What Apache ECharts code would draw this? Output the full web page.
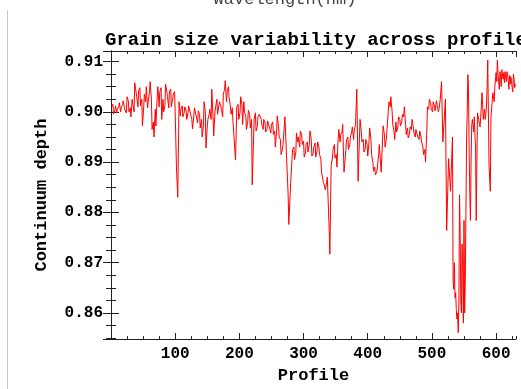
<!DOCTYPE html>
<html>
<head>
<meta charset="utf-8">
<script src="https://cdn.jsdelivr.net/npm/echarts@6/dist/echarts.min.js"></script>
<style>
html,body{margin:0;padding:0;background:#fff;}
#chart{width:521px;height:389px;}
</style>
</head>
<body>
<div id="chart"></div>
<script>
// ---- data ----
const chartTitle = 'Grain size variability across profile';
const topClippedText = 'Wavelength(nm)';
const xName = 'Profile';
const yName = 'Continuum depth';

// main readings
const profile = [
  1,4,7,10,13,16,19,22,25,28,
  31,34,37,40,43,46,49,52,55,58,
  61,64,67,70,73,76,79,82,85,88,
  91,94,97,100,102,104,106,109,112,115,118,
  121,124,127,130,133,136,139,142,145,148,
  151,154,157,160,163,166,169,172,175,178,
  181,184,187,190,194,196,199,202,205,208,
  211,214,217,220,223,226,229,232,235,238,
  241,244,247,250,253,256,259,262,265,268,
  271,274,276,277,280,283,286,289,292,295,298,
  301,304,307,310,313,316,319,322,325,328,
  331,334,337,340,341,343,346,349,352,355,358,
  361,363,367,370,373,376,379,383,385,388,
  391,394,397,400,403,406,409,412,415,418,
  421,424,427,430,433,436,439,442,445,448,
  451,454,457,460,463,466,469,472,475,478,
  481,484,487,490,493,496,499,502,505,508,
  511,515,517,521,523,526,529,532,533,534,536,538,
  539,541,543,544,545,547,549,550,552,554,556,557,558,559,560,562,564,566,568,569,
  571,574,576,578,580,582,584,587,589,591,592,595,597,
  600,602,604,606,609,611,614,616,618,620,623,626,628,630
];
const depth = [
  0.9010,0.8996,0.9012,0.9005,0.9018,0.9008,0.9022,0.9002,0.9030,0.9000,
  0.8990,0.9015,0.9058,0.9030,0.9042,0.9012,0.8972,0.9035,0.9050,0.9020,
  0.9060,0.8965,0.8950,0.8972,0.9050,0.9040,0.8985,0.9000,0.9055,0.9030,
  0.9040,0.9010,0.9035,0.9000,0.8890,0.8830,0.9020,0.9005,0.8990,0.9010,0.8985,
  0.9012,0.8995,0.8966,0.9008,0.8990,0.9002,0.8968,0.8950,0.9020,0.8928,
  0.8985,0.9005,0.9045,0.8952,0.9010,0.8995,0.9020,0.9005,0.9035,0.9062,
  0.9040,0.9028,0.8995,0.8982,0.8904,0.9010,0.8985,0.9030,0.8975,0.9000,
  0.8965,0.9003,0.8968,0.8855,0.8985,0.8962,0.8990,0.8998,0.8975,0.8985,
  0.8960,0.8982,0.8968,0.8975,0.8955,0.8930,0.8992,0.8950,0.8915,0.8935,
  0.8990,0.8895,0.8835,0.8776,0.8860,0.8925,0.8905,0.8958,0.8950,0.8962,0.8935,
  0.8910,0.8935,0.8920,0.8962,0.8912,0.8930,0.8910,0.8940,0.8915,0.8880,
  0.8860,0.8845,0.8870,0.8764,0.8717,0.8893,0.8925,0.8908,0.8890,0.8965,0.8955,
  0.8975,0.8880,0.8945,0.8925,0.8950,0.8970,0.8962,0.9045,0.8862,0.8985,
  0.8940,0.8920,0.8945,0.8912,0.8968,0.8915,0.8882,0.8875,0.8890,0.8935,
  0.8880,0.8972,0.8930,0.8965,0.9020,0.9030,0.8975,0.8945,0.8960,0.8990,
  0.8972,0.8995,0.9010,0.8955,0.8948,0.8970,0.8985,0.8958,0.8965,0.8950,
  0.8962,0.8940,0.8915,0.8900,0.9010,0.9025,0.9005,0.9020,0.9002,0.9015,
  0.9005,0.9060,0.8940,0.9025,0.8764,0.8907,0.8842,0.8950,0.8666,0.8647,0.8630,0.8607,
  0.8588,0.8561,0.8835,0.8760,0.8620,0.8737,0.8580,0.8784,0.8666,0.8946,0.9074,0.9045,0.8920,0.8840,0.8784,0.8972,0.8975,0.8990,0.8930,0.8784,
  0.8998,0.8975,0.8990,0.9038,0.8985,0.9005,0.8995,0.9103,0.8893,0.8842,0.8990,0.9038,0.9020,
  0.9078,0.9103,0.9060,0.9080,0.9084,0.9065,0.9080,0.9060,0.9075,0.9045,0.9070,0.9040,0.9065,0.9055
];

// extra readings of the fine jitter between the main readings
const profileFine = [
  3,6,9,12,15,18,21,24,27,30,33,36,39,42,45,48,51,54,57,60,
  63,66,69,72,75,78,81,84,87,90,93,96,99,
  108,111,114,117,120,123,126,129,132,135,138,141,144,147,150,
  153,156,159,162,165,168,171,174,177,180,183,186,189,
  198,201,204,207,210,213,216,219,225,228,231,234,237,240,
  243,246,249,252,255,258,261,264,267,
  282,285,288,291,294,297,300,303,306,309,312,315,318,321,324,327,
  345,348,351,354,357,360,366,369,372,375,378,381,
  390,393,396,399,402,405,408,411,414,417,
  426,429,432,435,438,441,444,447,450,
  453,456,459,462,465,468,471,474,477,480,
  483,486,489,492,495,498,501,504,507,510,513,
  535,537,540,542,546,548,551,553,555,561,563,565,567,
  573,575,577,579,581,583,585,586,
  598,601,603,605,607,608,610,612,613,615,617,619,621,622,624,625,627,629
];
const depthFine = [
  0.9015,0.9002,0.8998,0.9010,0.9000,0.9015,0.9008,0.8998,0.9022,0.9008,0.9025,0.9000,0.9040,0.9010,0.9048,0.9025,0.9010,0.9020,0.9008,0.9040,
  0.9025,0.8980,0.9005,0.9030,0.9010,0.9048,0.9025,0.9012,0.9040,0.9008,0.9045,0.9025,0.9040,
  0.8992,0.9012,0.8998,0.9002,0.8998,0.9010,0.8985,0.8992,0.9005,0.8978,0.8995,0.8985,0.8972,0.9000,0.8972,
  0.8995,0.8985,0.8990,0.9000,0.9025,0.8998,0.9012,0.8990,0.9045,0.9020,0.9050,0.9012,0.9008,
  0.9015,0.8998,0.9015,0.9020,0.8992,0.8980,0.8995,0.8985,0.8998,0.8972,0.8995,0.8985,0.8965,0.8978,
  0.8965,0.8985,0.8958,0.8980,0.8962,0.8960,0.8970,0.8945,0.8925,
  0.8905,0.8930,0.8920,0.8940,0.8930,0.8955,0.8942,0.8918,0.8940,0.8935,0.8945,0.8918,0.8938,0.8922,0.8930,0.8905,
  0.8908,0.8935,0.8915,0.8950,0.8940,0.8960,0.8925,0.8950,0.8935,0.8960,0.8945,0.8975,
  0.8960,0.8945,0.8925,0.8935,0.8940,0.8945,0.8900,0.8890,0.8880,0.8915,
  0.8955,0.8945,0.9000,0.9010,0.9000,0.8960,0.8980,0.8970,0.8985,
  0.8980,0.8990,0.8975,0.8968,0.8955,0.8965,0.8970,0.8950,0.8968,0.8945,
  0.8950,0.8930,0.8925,0.8960,0.9005,0.9018,0.9000,0.9012,0.9022,0.9000,0.9025,
  0.8700,0.8640,0.8600,0.8620,0.8600,0.8680,0.8600,0.8800,0.9000,0.8900,0.8985,0.8960,0.8955,
  0.8985,0.8970,0.9010,0.9015,0.8998,0.8985,0.9012,0.9050,
  0.9050,0.9060,0.9075,0.9045,0.9070,0.9050,0.9070,0.9078,0.9058,0.9068,0.9080,0.9060,0.9072,0.9055,0.9062,0.9048,0.9075,0.9048
];

// axis ranges and tick steps
const xRange = [0, 631];
const yRange = [0.8548, 0.9121];
const xMajorStep = 100, xMinorStep = 25;
const yMajorStep = 0.01, yMinorStep = 0.0025;

// ---- build chart ----
const seriesData = profile.map((p, i) => [p, depth[i]])
  .concat(profileFine.map((p, i) => [p, depthFine[i]]))
  .sort((a, b) => a[0] - b[0]);
const FONT = 'Liberation Mono';
const AX = '#222';

function xAxisDef(pos, step, len, labels, line) {
  return {
    type: 'value', position: pos, min: xRange[0], max: xRange[1], interval: step,
    axisLine: { show: line, lineStyle: { color: AX, width: 1 } },
    axisTick: { show: true, inside: true, length: len, lineStyle: { color: AX, width: 1 } },
    axisLabel: { show: labels, margin: 7, color: '#000', fontFamily: FONT, fontWeight: 'bold', fontSize: 16,
                 showMinLabel: false, showMaxLabel: false },
    splitLine: { show: false },
    name: (labels ? xName : ''), nameLocation: 'middle', nameGap: 22,
    nameTextStyle: { color: '#000', fontFamily: FONT, fontWeight: 'bold', fontSize: 17, verticalAlign: 'top' }
  };
}
function yAxisDef(pos, step, len, labels, line) {
  return {
    type: 'value', position: pos, min: yRange[0], max: yRange[1],
    minInterval: step, maxInterval: step,
    axisLine: { show: line, lineStyle: { color: AX, width: 1 } },
    axisTick: { show: true, inside: true, length: len, lineStyle: { color: AX, width: 1 } },
    axisLabel: { show: labels, margin: 8, color: '#000', fontFamily: FONT, fontWeight: 'bold', fontSize: 16,
                 showMinLabel: false, showMaxLabel: false,
                 formatter: v => v.toFixed(2) },
    splitLine: { show: false },
    name: (labels ? yName : ''), nameLocation: 'middle', nameGap: 61, nameRotate: 90,
    nameTextStyle: { color: '#000', fontFamily: FONT, fontWeight: 'bold', fontSize: 17 }
  };
}

const chart = echarts.init(document.getElementById('chart'), null, { renderer: 'canvas' });
chart.setOption({
  animation: false,
  backgroundColor: '#fff',
  title: {
    text: chartTitle, left: 105, top: 31, padding: 0,
    textStyle: { color: '#000', fontFamily: FONT, fontWeight: 'bold', fontSize: 19 }
  },
  grid: { left: 111, right: 5, top: 51, bottom: 46, containLabel: false },
  xAxis: [
    xAxisDef('bottom', xMajorStep, 6, true, true),
    xAxisDef('bottom', xMinorStep, 3, false, false),
    xAxisDef('top', xMajorStep, 6, false, true),
    xAxisDef('top', xMinorStep, 3, false, false)
  ],
  yAxis: [
    yAxisDef('left', yMajorStep, 8, true, true),
    yAxisDef('left', yMinorStep, 5, false, false),
    yAxisDef('right', yMajorStep, 8, false, true),
    yAxisDef('right', yMinorStep, 5, false, false)
  ],
  graphic: [
    { type: 'line', shape: { x1: 7.5, y1: 10, x2: 7.5, y2: 389 }, style: { stroke: '#c8c8c8', lineWidth: 1 }, silent: true },
    { type: 'text', style: { text: topClippedText, x: 285, y: -1, align: 'center', verticalAlign: 'middle',
      font: '17px "Liberation Mono"', fill: '#444' }, silent: true }
  ],
  series: [{
    type: 'line', xAxisIndex: 0, yAxisIndex: 0, data: seriesData,
    showSymbol: false, symbol: 'none',
    lineStyle: { color: '#ff0000', width: 1 }
  }]
});
</script>
</body>
</html>
